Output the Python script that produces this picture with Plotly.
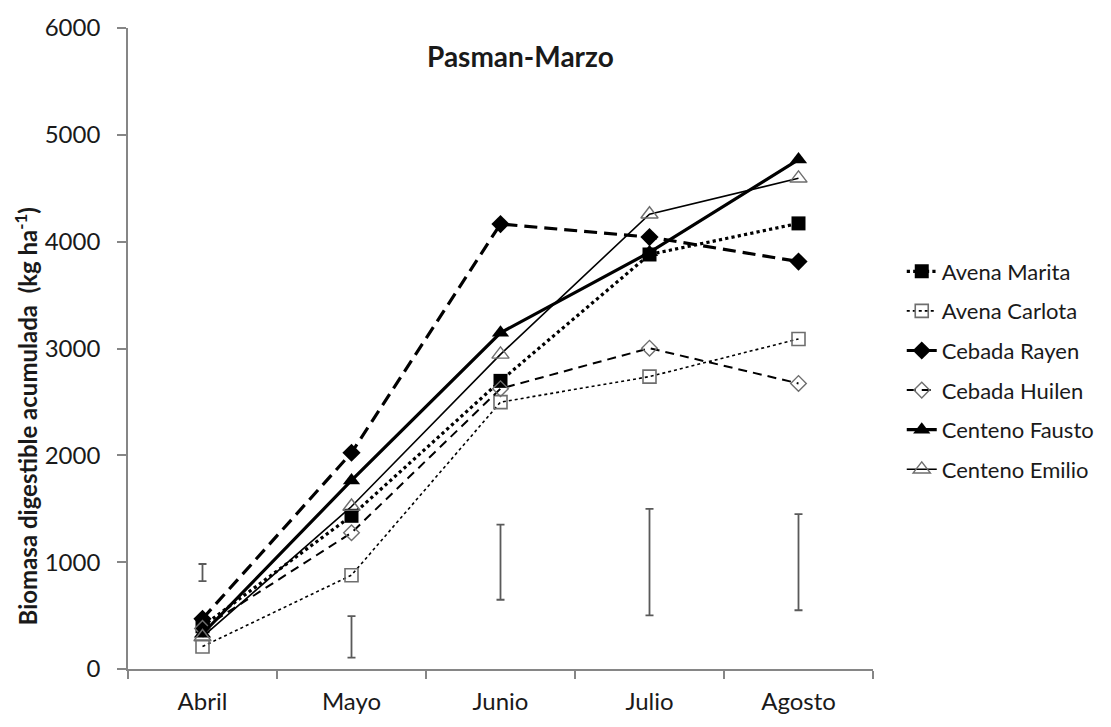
import plotly.graph_objects as go

months = ["Abril", "Mayo", "Junio", "Julio", "Agosto"]

avena_marita = [400, 1434, 2697, 3880, 4171]
avena_carlota = [210, 878, 2498, 2737, 3089]
cebada_rayen = [470, 2024, 4165, 4043, 3814]
cebada_huilen = [380, 1275, 2624, 3003, 2673]
centeno_fausto = [330, 1765, 3147, 3900, 4768]
centeno_emilio = [300, 1521, 2945, 4257, 4593]

err_low = [823, 107, 648, 502, 550]
err_high = [983, 495, 1351, 1498, 1450]

FONT = "Lato"
TXT = "#1a1a1a"
AX = "#868686"

series = [
    ("Avena Marita", avena_marita, dict(dash="dot", width=3.2), dict(symbol="square", size=14, color="black")),
    ("Avena Carlota", avena_carlota, dict(dash="dot", width=1.6), dict(symbol="square-open", size=13, color="#6e6e6e", line=dict(width=1.6, color="#6e6e6e"))),
    ("Cebada Rayen", cebada_rayen, dict(dash="13px,7px", width=3.2), dict(symbol="diamond", size=14, color="black")),
    ("Cebada Huilen", cebada_huilen, dict(dash="9px,6px", width=2), dict(symbol="diamond-open", size=12, color="#6e6e6e", line=dict(width=1.4, color="#6e6e6e"))),
    ("Centeno Fausto", centeno_fausto, dict(dash="solid", width=3.2), dict(symbol="triangle-up", size=15, color="black")),
    ("Centeno Emilio", centeno_emilio, dict(dash="solid", width=1.6), dict(symbol="triangle-up-open", size=15, color="#6e6e6e", line=dict(width=1.4, color="#6e6e6e"))),
]

fig = go.Figure()

mid = [(lo + hi) / 2 for lo, hi in zip(err_low, err_high)]
half = [(hi - lo) / 2 for lo, hi in zip(err_low, err_high)]
fig.add_trace(go.Scatter(
    x=months, y=mid, mode="markers", showlegend=False, hoverinfo="skip",
    marker=dict(size=1, opacity=0),
    error_y=dict(type="data", array=half, symmetric=True, color="#5a5a5a", thickness=1.8, width=4),
))

for i, (name, vals, line, marker) in enumerate(series):
    fig.add_trace(go.Scatter(
        x=months, y=vals, name=name, mode="lines+markers",
        line=dict(color="black", **line), marker=marker, legendgroup=f"g{i}",
    ))

L, R = 127.6, 879.0
T0, B0 = 25.0, 679.0
W, H = 1111, 727

def px_x(p):
    return (p - L) / (R - L)

def px_y(p):
    return (B0 - p) / (B0 - T0)

fig.update_layout(
    width=W, height=H,
    margin=dict(l=L, r=W - R, t=T0, b=H - B0, pad=0),
    paper_bgcolor="white", plot_bgcolor="white",
    font=dict(family=FONT, color=TXT, size=24),
    showlegend=True,
    legend=dict(
        x=px_x(908), y=px_y(252), xanchor="left", yanchor="top",
        font=dict(family=FONT, size=22, color=TXT),
        tracegroupgap=8, bgcolor="rgba(0,0,0,0)", itemwidth=30,
    ),
    xaxis=dict(
        type="category", range=[-0.5, 4.5], showgrid=False, zeroline=False,
        showline=True, linecolor=AX, linewidth=1.6,
        ticks="outside", tickson="boundaries", ticklen=8, tickcolor=AX, tickwidth=1.6,
        tickfont=dict(family=FONT, size=24, color=TXT), ticklabelstandoff=10,
    ),
    yaxis=dict(
        range=[0, 6000], dtick=1000, showgrid=False, zeroline=False,
        showline=True, linecolor=AX, linewidth=1.6,
        ticks="outside", ticklen=9, tickcolor=AX, tickwidth=1.6,
        tickfont=dict(family=FONT, size=24, color=TXT), ticklabelstandoff=12,
    ),
    annotations=[
        dict(text="<b>Pasman-Marzo</b>", xref="paper", yref="paper",
             x=px_x(523), y=px_y(54), xanchor="center", yanchor="middle",
             showarrow=False, font=dict(family=FONT, size=28, color=TXT)),
        dict(text="<b>Biomasa digestible acumulada  (kg ha<sup>-1</sup>)</b>",
             xref="paper", yref="paper", x=px_x(25), y=px_y(421),
             xanchor="center", yanchor="middle", textangle=-90,
             showarrow=False, font=dict(family=FONT, size=24, color=TXT)),
    ],
)

fig.write_html("out.html")
